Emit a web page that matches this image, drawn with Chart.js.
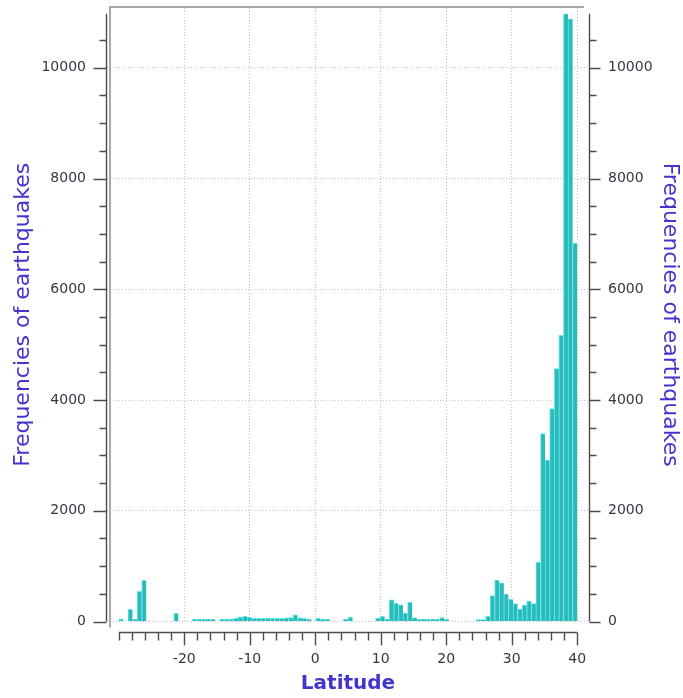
<!DOCTYPE html>
<html>
<head>
<meta charset="utf-8">
<title>Frequencies of earthquakes by latitude</title>
<script src="https://cdn.jsdelivr.net/npm/chart.js@4.4.1/dist/chart.umd.min.js"></script>
<style>
  html, body { margin: 0; padding: 0; background: #ffffff; }
  #wrap { width: 683px; height: 698px; }
</style>
</head>
<body>
<div id="wrap"><canvas id="quakes" width="683" height="698"></canvas></div>
<script>
// Histogram bins: 0.7 degree wide, starting at 30 degrees south
const BIN_START = -30;
const BIN_WIDTH = 0.7;

// Number of earthquakes in each latitude bin, south to north
const quakeCounts = [
  45, 0, 220, 45, 545, 743, 0, 0, 0, 0,
  0, 0, 148, 0, 0, 0, 40, 40, 40, 40,
  40, 0, 40, 40, 40, 55, 78, 95, 80, 55,
  55, 55, 55, 55, 55, 55, 65, 70, 120, 65,
  55, 40, 0, 55, 40, 40, 0, 0, 0, 40,
  80, 0, 0, 0, 0, 0, 60, 95, 45, 390,
  330, 300, 150, 345, 70, 40, 40, 40, 40, 40,
  70, 40, 0, 0, 0, 0, 0, 0, 35, 35,
  95, 470, 750, 700, 495, 400, 325, 220, 295, 370,
  325, 1068, 3396, 2914, 3847, 4569, 5170, 10975, 10884, 6830
];

// Axis ticks
const latitudeTicks = [-20, -10, 0, 10, 20, 30, 40];
const latitudeMinorTicks = [-30, -28, -26, -24, -22, -20, -18, -16, -14, -12, -10, -8, -6, -4, -2,
  0, 2, 4, 6, 8, 10, 12, 14, 16, 18, 20, 22, 24, 26, 28, 30, 32, 34, 36, 38, 40];
const frequencyTicks = [0, 2000, 4000, 6000, 8000, 10000];
const FREQUENCY_MINOR_STEP = 500;

// Axis ranges
const LAT_MIN = -31.8, LAT_MAX = 41.8;
const FREQ_MAX = 11080;

const X_TITLE = 'Latitude';
const Y_TITLE = 'Frequencies of earthquakes';

const TITLE_COLOR = '#4334cf';
const TICK_COLOR = '#363644';
const AXIS_COLOR = '#4d4d4d';

const binCentres = quakeCounts.map((_, i) => BIN_START + BIN_WIDTH * (i + 0.5));
const points = quakeCounts.map((c, i) => ({ x: binCentres[i], y: c }));
const maxCount = Math.max(...quakeCounts);

Chart.defaults.font.family = '"DejaVu Sans", Verdana, sans-serif';

// Keep the plot area fixed: drop the label overhang padding scales ask for
function fixSize(prop, size) {
  return (s) => {
    s[prop] = size;
    s.paddingTop = 0; s.paddingBottom = 0;
    s.paddingLeft = 0; s.paddingRight = 0;
  };
}

// Axis lines, tick marks and the raised plot frame
const axisFrame = {
  id: 'axisFrame',
  afterDraw(chart) {
    const { ctx, chartArea: a, scales: { x, y } } = chart;
    const top = y.getPixelForValue(maxCount);
    const zero = y.getPixelForValue(0);
    ctx.save();

    ctx.strokeStyle = '#a8a8a8';
    ctx.lineWidth = 2;
    ctx.beginPath();
    ctx.moveTo(a.left + 3, zero + 6);
    ctx.lineTo(a.left + 3, a.top - 1);
    ctx.lineTo(a.right - 5, a.top - 1);
    ctx.stroke();

    ctx.strokeStyle = AXIS_COLOR;
    ctx.lineWidth = 1.4;
    const lx = a.left - 0.5;
    const rx = a.right + 0.5;
    ctx.beginPath();
    ctx.moveTo(lx, top); ctx.lineTo(lx, zero);
    ctx.moveTo(rx, top); ctx.lineTo(rx, zero);
    for (let v = 0; v <= maxCount; v += FREQUENCY_MINOR_STEP) {
      const py = Math.round(y.getPixelForValue(v)) + 0.5;
      const major = frequencyTicks.includes(v);
      ctx.moveTo(lx - (major ? 13 : 7), py); ctx.lineTo(lx, py);
      ctx.moveTo(rx, py); ctx.lineTo(rx + (major ? 11 : 7), py);
    }

    const ay = a.bottom + 11;
    ctx.moveTo(x.getPixelForValue(latitudeMinorTicks[0]), ay);
    ctx.lineTo(x.getPixelForValue(latitudeMinorTicks[latitudeMinorTicks.length - 1]), ay);
    for (const v of latitudeMinorTicks) {
      const px = Math.round(x.getPixelForValue(v)) + 0.5;
      const major = latitudeTicks.includes(v);
      ctx.moveTo(px, ay); ctx.lineTo(px, ay + (major ? 13 : 8));
    }
    ctx.stroke();
    ctx.restore();
  }
};

const dottedGrid = { color: '#c4c4c4', lineWidth: 1, drawTicks: false };

new Chart(document.getElementById('quakes'), {
  type: 'bar',
  data: {
    datasets: [{
      data: points,
      backgroundColor: '#2bb9b9',
      borderColor: '#5eeaea',
      borderWidth: { left: 1, top: 1, right: 0, bottom: 0 },
      borderSkipped: false,
      barPercentage: 1,
      categoryPercentage: 1,
      yAxisID: 'y'
    }]
  },
  options: {
    responsive: false,
    animation: false,
    devicePixelRatio: 1,
    layout: { padding: { top: 8, left: 0, right: 0, bottom: 0 } },
    plugins: { legend: { display: false }, tooltip: { enabled: false } },
    scales: {
      x: {
        type: 'linear',
        position: 'bottom',
        min: LAT_MIN,
        max: LAT_MAX,
        offset: false,
        grid: Object.assign({ offset: false }, dottedGrid),
        border: { display: false, dash: [1, 2] },
        afterBuildTicks: (s) => { s.ticks = latitudeTicks.map(v => ({ value: v })); },
        afterFit: fixSize('height', 76.5),
        ticks: {
          padding: 29,
          color: TICK_COLOR,
          font: { size: 14 },
          maxRotation: 0,
          autoSkip: false,
          callback: (v) => String(v)
        },
        title: {
          display: true,
          text: X_TITLE,
          color: TITLE_COLOR,
          font: { size: 20, weight: 'bold' },
          padding: { top: 0, bottom: 2 }
        }
      },
      y: {
        type: 'linear',
        position: 'left',
        min: 0,
        max: FREQ_MAX,
        grid: dottedGrid,
        border: { display: false, dash: [1, 2] },
        afterBuildTicks: (s) => { s.ticks = frequencyTicks.map(v => ({ value: v })); },
        afterFit: fixSize('width', 107),
        ticks: {
          padding: 21,
          color: TICK_COLOR,
          font: { size: 14 },
          callback: (v) => String(v)
        },
        title: {
          display: true,
          text: Y_TITLE,
          color: TITLE_COLOR,
          font: { size: 22 },
          padding: { top: 10, bottom: 0 }
        }
      },
      y2: {
        type: 'linear',
        position: 'right',
        min: 0,
        max: FREQ_MAX,
        grid: { display: false, drawOnChartArea: false, drawTicks: false },
        border: { display: false },
        afterBuildTicks: (s) => { s.ticks = frequencyTicks.map(v => ({ value: v })); },
        afterFit: fixSize('width', 94),
        ticks: {
          padding: 19,
          color: TICK_COLOR,
          font: { size: 14 },
          callback: (v) => String(v)
        },
        title: {
          display: true,
          text: Y_TITLE,
          color: TITLE_COLOR,
          font: { size: 22 },
          padding: { top: 0, bottom: 0 }
        }
      }
    }
  },
  plugins: [axisFrame]
});
</script>
</body>
</html>
